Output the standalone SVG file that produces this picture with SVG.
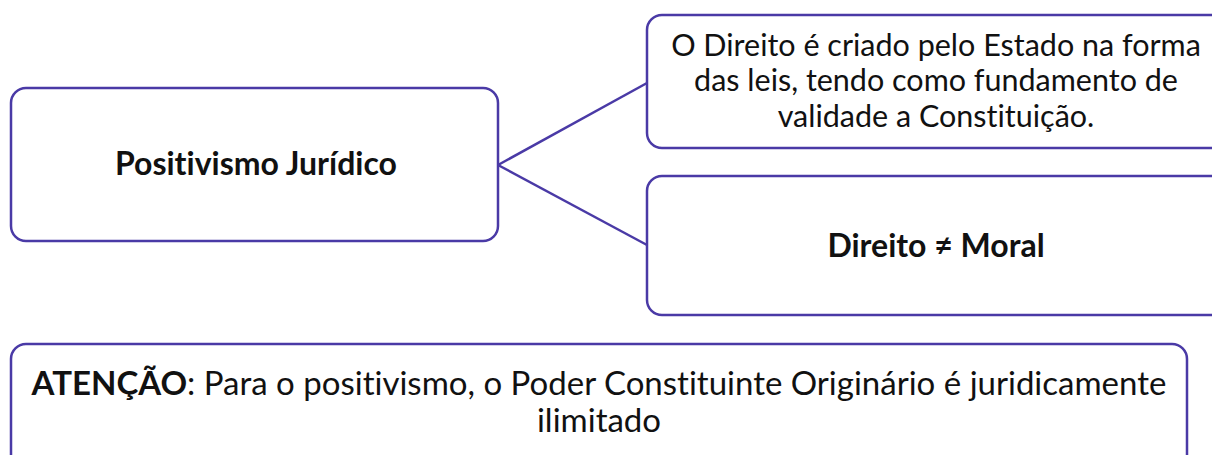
<svg xmlns="http://www.w3.org/2000/svg" width="1212" height="455" viewBox="0 0 1212 455">
<style>
.box{fill:#fff;stroke:#4a3aa6;stroke-width:2.5}
.ln{stroke:#4a3aa6;stroke-width:2.5;fill:none}
text{font-family:Lato,"Noto Sans",sans-serif;fill:#111;text-anchor:middle;font-variant-ligatures:none}
.b{font-weight:bold}
.t{font-size:30.5px}
.h{font-size:32px}
.a{font-size:33px}
</style>
<rect width="1212" height="455" fill="#fff"/>
<g id="connectors">
<line class="ln" x1="498" y1="165" x2="647" y2="83"/>
<line class="ln" x1="498" y1="165" x2="647" y2="245"/>
</g>
<g id="n-positivismo">
<rect class="box" x="11" y="88" width="487" height="153" rx="15"/>
<text class="b h" x="256" y="175">Positivismo Jurídico</text>
</g>
<g id="n-direito-estado">
<rect class="box" x="647" y="15" width="590" height="133" rx="15"/>
<text class="t" x="936" y="56">O Direito é criado pelo Estado na forma</text>
<text class="t" x="936" y="91">das leis, tendo como fundamento de</text>
<text class="t" x="936" y="127">validade a Constituição.</text>
</g>
<g id="n-direito-moral">
<rect class="box" x="647" y="176" width="590" height="139" rx="15"/>
<text class="b h" x="936" y="257">Direito ≠ Moral</text>
</g>
<g id="n-atencao">
<rect class="box" x="11" y="344" width="1176" height="140" rx="15"/>
<text class="a" x="599" y="395"><tspan class="b">ATENÇÃO</tspan>: Para o positivismo, o Poder Constituinte Originário é juridicamente</text>
<text class="a" x="599" y="432">ilimitado</text>
</g>
</svg>
